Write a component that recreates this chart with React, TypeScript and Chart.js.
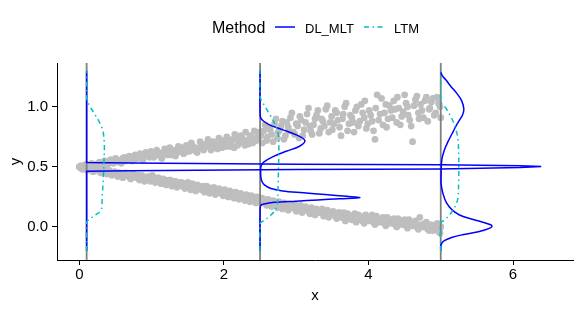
import React, { useEffect, useRef } from "react";
import { Chart, registerables } from "chart.js";

Chart.register(...registerables);

const FONT = "'Liberation Sans', Arial, Helvetica, sans-serif";

// axes
const xTicks = [0, 2, 4, 6];
const yTicks = [0, 0.5, 1.0];
const xRange = [-0.31, 6.83];
const yRange = [-0.275, 1.365];
const xTitle = "x";
const yTitle = "y";

// scatter: upper branch (set a)
const upperX = [
  0.0, 0.04, 0.07, 0.11, 0.15, 0.19, 0.22, 0.26, 0.3, 0.34, 0.37, 0.41, 0.45, 0.49, 0.52, 0.56, 0.6, 0.64, 0.67, 0.71,
  0.75, 0.79, 0.82, 0.86, 0.9, 0.94, 0.97, 1.01, 1.05, 1.09, 1.12, 1.16, 1.2, 1.24, 1.27, 1.31, 1.35, 1.39, 1.42, 1.46,
  1.5, 1.54, 1.57, 1.61, 1.65, 1.69, 1.72, 1.76, 1.8, 1.84, 1.87, 1.91, 1.95, 1.99, 2.02, 2.06, 2.1, 2.14, 2.17, 2.21,
  2.25, 2.29, 2.32, 2.36, 2.4, 2.44, 2.47, 2.51, 2.55, 2.59, 2.62, 2.66, 2.7, 2.74, 2.77, 2.81, 2.85, 2.89, 2.92, 2.96,
  3.0, 3.04, 3.07, 3.11, 3.15, 3.19, 3.22, 3.26, 3.3, 3.34, 3.37, 3.41, 3.45, 3.49, 3.52, 3.56, 3.6, 3.64, 3.67, 3.71,
  3.75, 3.79, 3.82, 3.86, 3.9, 3.94, 3.97, 4.01, 4.05, 4.09, 4.12, 4.16, 4.2, 4.24, 4.27, 4.31, 4.35, 4.39, 4.42, 4.46,
  4.5, 4.54, 4.57, 4.61, 4.65, 4.69, 4.72, 4.76, 4.8, 4.84, 4.87, 4.91, 4.95, 4.99,
];
const upperY = [
  0.5, 0.5, 0.51, 0.51, 0.52, 0.51, 0.52, 0.53, 0.52, 0.54, 0.53, 0.54, 0.55, 0.54, 0.56, 0.55, 0.57, 0.55, 0.57, 0.58,
  0.56, 0.58, 0.59, 0.57, 0.59, 0.6, 0.58, 0.61, 0.6, 0.62, 0.59, 0.62, 0.61, 0.63, 0.6, 0.64, 0.62, 0.63, 0.66, 0.62,
  0.65, 0.64, 0.67, 0.63, 0.66, 0.68, 0.64, 0.67, 0.69, 0.66, 0.7, 0.65, 0.69, 0.71, 0.67, 0.72, 0.69, 0.66, 0.73, 0.7,
  0.74, 0.68, 0.72, 0.76, 0.7, 0.73, 0.77, 0.76, 0.8, 0.72, 0.83, 0.77, 0.86, 0.74, 0.81, 0.88, 0.76, 0.83, 0.91, 0.79,
  0.86, 0.74, 0.89, 0.81, 0.94, 0.84, 0.77, 0.9, 0.97, 0.82, 0.88, 0.98, 0.79, 0.92, 0.86, 0.95, 0.83, 0.9, 1.0, 0.8,
  0.93, 0.87, 0.97, 0.84, 1.02, 0.91, 0.82, 0.97, 0.88, 0.73, 1.1, 0.94, 0.85, 1.02, 0.9, 0.97, 1.05, 0.87, 0.99, 0.92,
  1.1, 1.0, 0.89, 0.71, 1.06, 0.95, 1.02, 0.91, 1.08, 0.98, 1.04, 0.93, 1.08, 1.0,
];
// scatter: upper branch (set b)
const upperXb = [
  0.02, 0.05, 0.09, 0.13, 0.17, 0.2, 0.24, 0.28, 0.32, 0.35, 0.39, 0.43, 0.47, 0.5, 0.54, 0.58, 0.62, 0.65, 0.69, 0.73,
  0.77, 0.8, 0.84, 0.88, 0.92, 0.95, 0.99, 1.03, 1.07, 1.1, 1.14, 1.18, 1.22, 1.25, 1.29, 1.33, 1.37, 1.4, 1.44, 1.48,
  1.52, 1.55, 1.59, 1.63, 1.67, 1.7, 1.74, 1.78, 1.82, 1.85, 1.89, 1.93, 1.97, 2.0, 2.04, 2.08, 2.12, 2.15, 2.19, 2.23,
  2.27, 2.3, 2.34, 2.38, 2.42, 2.45, 2.49, 2.53, 2.57, 2.6, 2.64, 2.68, 2.72, 2.75, 2.79, 2.83, 2.87, 2.9, 2.94, 2.98,
  3.02, 3.05, 3.09, 3.13, 3.17, 3.2, 3.24, 3.28, 3.32, 3.35, 3.39, 3.43, 3.47, 3.5, 3.54, 3.58, 3.62, 3.65, 3.69, 3.73,
  3.77, 3.8, 3.84, 3.88, 3.92, 3.95, 3.99, 4.03, 4.07, 4.1, 4.14, 4.18, 4.22, 4.25, 4.29, 4.33, 4.37, 4.4, 4.44, 4.48,
  4.52, 4.55, 4.59, 4.63, 4.67, 4.7, 4.74, 4.78, 4.82, 4.85, 4.89, 4.93, 4.97, 5.0,
];
const upperYb = [
  0.51, 0.49, 0.52, 0.5, 0.53, 0.52, 0.5, 0.54, 0.51, 0.55, 0.52, 0.56, 0.53, 0.57, 0.54, 0.53, 0.58, 0.56, 0.59, 0.55,
  0.6, 0.57, 0.61, 0.56, 0.62, 0.59, 0.63, 0.58, 0.64, 0.61, 0.57, 0.65, 0.6, 0.66, 0.62, 0.59, 0.67, 0.64, 0.61, 0.68,
  0.63, 0.7, 0.66, 0.62, 0.71, 0.65, 0.69, 0.73, 0.64, 0.71, 0.68, 0.74, 0.66, 0.72, 0.75, 0.67, 0.73, 0.77, 0.68, 0.76,
  0.71, 0.79, 0.69, 0.75, 0.8, 0.72, 0.79, 0.7, 0.85, 0.75, 0.81, 0.71, 0.9, 0.79, 0.84, 0.73, 0.87, 0.8, 0.95, 0.77,
  0.84, 0.92, 0.76, 0.87, 0.99, 0.8, 0.85, 0.93, 0.78, 0.9, 0.84, 1.01, 0.87, 0.81, 0.97, 0.89, 0.76, 0.94, 1.03, 0.86,
  0.91, 0.79, 1.0, 0.88, 0.95, 1.05, 0.86, 0.93, 0.8, 0.99, 0.89, 1.07, 0.95, 0.83, 1.01, 0.91, 0.98, 1.08, 0.85, 0.96,
  1.03, 0.93, 0.84, 1.01, 1.09, 0.9, 0.97, 1.05, 0.88, 0.99, 1.07, 0.95, 1.03, 0.91,
];

// scatter: lower branch (set a)
const lowerX = [
  0.02, 0.06, 0.09, 0.13, 0.17, 0.21, 0.24, 0.28, 0.32, 0.36, 0.39, 0.43, 0.47, 0.51, 0.54, 0.58, 0.62, 0.66, 0.69, 0.73,
  0.77, 0.81, 0.84, 0.88, 0.92, 0.96, 0.99, 1.03, 1.07, 1.11, 1.14, 1.18, 1.22, 1.26, 1.29, 1.33, 1.37, 1.41, 1.44, 1.48,
  1.52, 1.56, 1.59, 1.63, 1.67, 1.71, 1.74, 1.78, 1.82, 1.86, 1.89, 1.93, 1.97, 2.01, 2.04, 2.08, 2.12, 2.16, 2.19, 2.23,
  2.27, 2.31, 2.34, 2.38, 2.42, 2.46, 2.49, 2.53, 2.57, 2.61, 2.64, 2.68, 2.72, 2.76, 2.79, 2.83, 2.87, 2.91, 2.94, 2.98,
  3.02, 3.06, 3.09, 3.13, 3.17, 3.21, 3.24, 3.28, 3.32, 3.36, 3.39, 3.43, 3.47, 3.51, 3.54, 3.58, 3.62, 3.66, 3.69, 3.73,
  3.77, 3.81, 3.84, 3.88, 3.92, 3.96, 3.99, 4.03, 4.07, 4.11, 4.14, 4.18, 4.22, 4.26, 4.29, 4.33, 4.37, 4.41, 4.44, 4.48,
  4.52, 4.56, 4.59, 4.63, 4.67, 4.71, 4.74, 4.78, 4.82, 4.86, 4.89, 4.93, 4.97, 5.0,
];
const lowerY = [
  0.49, 0.49, 0.48, 0.49, 0.48, 0.47, 0.48, 0.46, 0.47, 0.46, 0.45, 0.46, 0.45, 0.44, 0.45, 0.43, 0.44, 0.43, 0.42, 0.44,
  0.42, 0.43, 0.41, 0.42, 0.4, 0.42, 0.4, 0.41, 0.39, 0.4, 0.38, 0.39, 0.37, 0.39, 0.36, 0.38, 0.36, 0.37, 0.35, 0.36,
  0.34, 0.36, 0.33, 0.35, 0.33, 0.34, 0.32, 0.33, 0.31, 0.33, 0.3, 0.32, 0.29, 0.31, 0.28, 0.3, 0.27, 0.29, 0.26, 0.28,
  0.25, 0.27, 0.24, 0.26, 0.23, 0.25, 0.22, 0.24, 0.21, 0.23, 0.2, 0.22, 0.19, 0.21, 0.18, 0.2, 0.17, 0.19, 0.16, 0.19,
  0.15, 0.18, 0.14, 0.17, 0.13, 0.16, 0.13, 0.15, 0.12, 0.15, 0.11, 0.14, 0.1, 0.13, 0.09, 0.12, 0.08, 0.12, 0.08, 0.1,
  0.06, 0.11, 0.07, 0.09, 0.05, 0.1, 0.06, 0.08, 0.04, 0.09, 0.05, 0.07, 0.03, 0.08, 0.04, 0.06, 0.02, 0.07, 0.03, 0.05,
  0.01, 0.06, 0.02, 0.04, 0.0, 0.08, 0.01, 0.03, -0.02, 0.02, -0.03, 0.01, -0.04, 0.0,
];
// scatter: lower branch (set b)
const lowerXb = [
  0.0, 0.04, 0.08, 0.11, 0.15, 0.19, 0.23, 0.26, 0.3, 0.34, 0.38, 0.41, 0.45, 0.49, 0.53, 0.56, 0.6, 0.64, 0.68, 0.71,
  0.75, 0.79, 0.83, 0.86, 0.9, 0.94, 0.98, 1.01, 1.05, 1.09, 1.13, 1.16, 1.2, 1.24, 1.28, 1.31, 1.35, 1.39, 1.43, 1.46,
  1.5, 1.54, 1.58, 1.61, 1.65, 1.69, 1.73, 1.76, 1.8, 1.84, 1.88, 1.91, 1.95, 1.99, 2.03, 2.06, 2.1, 2.14, 2.18, 2.21,
  2.25, 2.29, 2.33, 2.36, 2.4, 2.44, 2.48, 2.51, 2.55, 2.59, 2.63, 2.66, 2.7, 2.74, 2.78, 2.81, 2.85, 2.89, 2.93, 2.96,
  3.0, 3.04, 3.08, 3.11, 3.15, 3.19, 3.23, 3.26, 3.3, 3.34, 3.38, 3.41, 3.45, 3.49, 3.53, 3.56, 3.6, 3.64, 3.68, 3.71,
  3.75, 3.79, 3.83, 3.86, 3.9, 3.94, 3.98, 4.01, 4.05, 4.09, 4.13, 4.16, 4.2, 4.24, 4.28, 4.31, 4.35, 4.39, 4.43, 4.46,
  4.5, 4.54, 4.58, 4.61, 4.65, 4.69, 4.73, 4.76, 4.8, 4.84, 4.88, 4.91, 4.95, 4.99,
];
const lowerYb = [
  0.5, 0.48, 0.5, 0.47, 0.49, 0.46, 0.49, 0.47, 0.45, 0.48, 0.44, 0.47, 0.43, 0.46, 0.42, 0.45, 0.41, 0.45, 0.42, 0.4,
  0.44, 0.41, 0.39, 0.43, 0.38, 0.41, 0.38, 0.43, 0.37, 0.41, 0.36, 0.4, 0.35, 0.39, 0.34, 0.38, 0.33, 0.37, 0.34, 0.32,
  0.37, 0.31, 0.35, 0.3, 0.34, 0.31, 0.29, 0.34, 0.28, 0.32, 0.27, 0.31, 0.28, 0.26, 0.3, 0.25, 0.29, 0.24, 0.28, 0.23,
  0.27, 0.22, 0.26, 0.21, 0.25, 0.2, 0.24, 0.2, 0.23, 0.18, 0.22, 0.17, 0.21, 0.16, 0.2, 0.15, 0.19, 0.14, 0.18, 0.16,
  0.13, 0.17, 0.12, 0.16, 0.14, 0.11, 0.15, 0.1, 0.14, 0.12, 0.09, 0.13, 0.08, 0.12, 0.1, 0.07, 0.12, 0.08, 0.05, 0.11,
  0.07, 0.09, 0.04, 0.1, 0.06, 0.03, 0.08, 0.05, 0.1, 0.02, 0.06, 0.04, 0.08, 0.01, 0.05, 0.03, 0.07, 0.0, 0.04, 0.02,
  0.06, -0.01, 0.03, 0.01, 0.05, -0.02, 0.02, 0.0, 0.04, -0.03, 0.01, -0.01, 0.03, -0.05,
];

// vertical slice positions
const slicePositions = [0.1, 2.5, 5.0];

// legend
const legendTitle = "Method";
const methods = ["DL_MLT", "LTM"];
const methodColors = ["#0000FF", "#00BFC4"];
const methodDash = [[], [5, 3.5, 1.5, 3.5]];

// DL_MLT densities (y grid, scaled density width)
const dlAt0Y = [-0.2, 0.464, 0.468, 0.478, 0.483, 0.495, 0.503, 0.51, 0.518, 0.523, 0.532, 0.537, 1.3];
const dlAt0W = [0, 0, 0.6, 2.9, 4.9, 6.0, 6.29, 6.0, 4.9, 2.9, 0.6, 0, 0];

const dlAt25Y = [
  -0.2, 0.15, 0.18, 0.19, 0.205, 0.215, 0.225, 0.235, 0.244, 0.255, 0.27, 0.285, 0.3, 0.32, 0.35, 0.38, 0.42, 0.47, 0.51,
  0.54, 0.586, 0.63, 0.67, 0.72, 0.767, 0.81, 0.85, 0.88, 0.906, 0.95, 1.3,
];
const dlAt25W = [
  0, 0, 0.01, 0.04, 0.2, 0.5, 0.8, 1.1, 1.38, 1.2, 0.9, 0.6, 0.31, 0.15, 0.06, 0.025, 0.01, 0.008, 0.015, 0.05, 0.18,
  0.36, 0.54, 0.62, 0.5, 0.31, 0.13, 0.05, 0.01, 0, 0,
];

const dlAt5Y = [
  -0.2, -0.16, -0.14, -0.114, -0.086, -0.065, -0.04, -0.01, 0.008, 0.02, 0.044, 0.07, 0.1, 0.14, 0.2, 0.28, 0.36, 0.45,
  0.56, 0.64, 0.71, 0.78, 0.84, 0.89, 0.93, 0.98, 1.05, 1.114, 1.17, 1.225, 1.26, 1.29,
];
const dlAt5W = [
  0, 0, 0.01, 0.05, 0.16, 0.3, 0.52, 0.68, 0.71, 0.68, 0.56, 0.4, 0.26, 0.16, 0.08, 0.03, 0.005, 0.005, 0.015, 0.05, 0.1,
  0.16, 0.21, 0.26, 0.3, 0.32, 0.29, 0.22, 0.14, 0.07, 0.02, 0,
];

// LTM densities
const ltmAt0Y = [-0.2, 0.04, 0.06, 0.1, 0.14, 0.25, 0.4, 0.55, 0.68, 0.8, 0.88, 0.95, 1.01, 1.05, 1.07, 1.3];
const ltmAt0W = [0, 0, 0.03, 0.12, 0.2, 0.215, 0.23, 0.24, 0.245, 0.225, 0.17, 0.1, 0.04, 0.005, 0, 0];

const ltmAt25Y = [-0.2, 0.03, 0.045, 0.1, 0.15, 0.2, 0.36, 0.5, 0.64, 0.78, 0.85, 0.92, 1.0, 1.044, 1.08, 1.3];
const ltmAt25W = [0, 0, 0.03, 0.15, 0.22, 0.24, 0.25, 0.255, 0.26, 0.25, 0.21, 0.15, 0.07, 0.03, 0, 0];

const ltmAt5Y = [-0.2, 0.03, 0.06, 0.1, 0.14, 0.2, 0.25, 0.5, 0.725, 0.8, 0.88, 0.94, 0.99, 1.03, 1.05, 1.3];
const ltmAt5W = [0, 0, 0.055, 0.12, 0.17, 0.22, 0.24, 0.25, 0.24, 0.215, 0.17, 0.12, 0.07, 0.01, 0, 0];

const densityCurves = [
  { method: 0, base: 0.1, ys: dlAt0Y, ws: dlAt0W, tension: 0 },
  { method: 0, base: 2.5, ys: dlAt25Y, ws: dlAt25W, tension: 0.35 },
  { method: 0, base: 5.0, ys: dlAt5Y, ws: dlAt5W, tension: 0.35 },
  { method: 1, base: 0.1, ys: ltmAt0Y, ws: ltmAt0W, tension: 0.35 },
  { method: 1, base: 2.5, ys: ltmAt25Y, ws: ltmAt25W, tension: 0.35 },
  { method: 1, base: 5.0, ys: ltmAt5Y, ws: ltmAt5W, tension: 0.35 },
];

const scatterSets = [
  { xs: upperX, ys: upperY },
  { xs: upperXb, ys: upperYb },
  { xs: lowerX, ys: lowerY },
  { xs: lowerXb, ys: lowerYb },
];

export default function App() {
  const canvasRef = useRef<HTMLCanvasElement | null>(null);

  useEffect(() => {
    const canvas = canvasRef.current;
    if (!canvas) return;

    const datasets: any[] = [];

    densityCurves.forEach((c) => {
      datasets.push({
        type: "scatter",
        showLine: true,
        data: c.ys.map((y, i) => ({ x: c.base + c.ws[i], y })),
        borderColor: methodColors[c.method],
        borderWidth: 1.5,
        borderDash: methodDash[c.method],
        pointRadius: 0,
        tension: c.tension,
        fill: false,
        order: c.method === 1 ? 1 : 2,
      });
    });

    slicePositions.forEach((p) => {
      datasets.push({
        type: "scatter",
        showLine: true,
        data: [
          { x: p, y: yRange[0] },
          { x: p, y: yRange[1] },
        ],
        borderColor: "#808080",
        borderWidth: 1.8,
        pointRadius: 0,
        order: 3,
      });
    });

    scatterSets.forEach((s) => {
      datasets.push({
        type: "scatter",
        data: s.xs.map((x, i) => ({ x, y: s.ys[i] })),
        backgroundColor: "#BEBEBE",
        borderWidth: 0,
        pointRadius: 3.4,
        order: 4,
      });
    });

    const chart = new Chart(canvas, {
      type: "scatter",
      data: { datasets },
      options: {
        animation: false,
        responsive: false,
        devicePixelRatio: 1,
        events: [],
        layout: { padding: { top: 63, right: 8, left: 0, bottom: 0 } },
        plugins: { legend: { display: false }, tooltip: { enabled: false } },
        scales: {
          x: {
            type: "linear",
            min: xRange[0],
            max: xRange[1],
            afterBuildTicks: (s: any) => {
              s.ticks = xTicks.map((v) => ({ value: v }));
            },
            afterFit: (s: any) => {
              s.height = 50;
            },
            grid: {
              display: true,
              drawOnChartArea: false,
              drawTicks: true,
              tickLength: 5,
              color: "#000",
              tickColor: "#000",
              lineWidth: 1,
            },
            border: { display: true, color: "#000", width: 1 },
            ticks: {
              color: "#000",
              font: { family: FONT, size: 15 },
              padding: 1,
              maxRotation: 0,
              callback: (v: any) => String(v),
            },
            title: {
              display: true,
              text: xTitle,
              color: "#000",
              font: { family: FONT, size: 15 },
              padding: { top: 0, bottom: 5 },
            },
          },
          y: {
            type: "linear",
            min: yRange[0],
            max: yRange[1],
            afterBuildTicks: (s: any) => {
              s.ticks = yTicks.map((v) => ({ value: v }));
            },
            afterFit: (s: any) => {
              s.width = 57;
            },
            grid: {
              display: true,
              drawOnChartArea: false,
              drawTicks: true,
              tickLength: 5,
              color: "#000",
              tickColor: "#000",
              lineWidth: 1,
            },
            border: { display: true, color: "#000", width: 1 },
            ticks: {
              color: "#000",
              font: { family: FONT, size: 15 },
              padding: 4,
              callback: (v: any) => Number(v).toFixed(1),
            },
            title: {
              display: true,
              text: yTitle,
              color: "#000",
              font: { family: FONT, size: 15 },
              padding: { top: 7, bottom: 0 },
            },
          },
        },
      },
    } as any);

    return () => chart.destroy();
  }, []);

  const legendSamples = [
    { left: 275, textLeft: 305 },
    { left: 364, textLeft: 394 },
  ];

  return (
    <div style={{ position: "absolute", left: 0, top: 0, width: 581, height: 310, background: "#fff", fontFamily: FONT }}>
      <canvas ref={canvasRef} width={581} height={310} style={{ position: "absolute", left: 0, top: 0, width: 581, height: 310 }} />
      <div style={{ position: "absolute", left: 212, top: 19.5, fontSize: 16, lineHeight: "16px", color: "#000", whiteSpace: "nowrap" }}>
        {legendTitle}
      </div>
      {methods.map((m, i) => (
        <React.Fragment key={m}>
          <svg
            width={20}
            height={6}
            style={{ position: "absolute", left: legendSamples[i].left, top: 23.7 }}
          >
            <line
              x1={0}
              y1={3}
              x2={20}
              y2={3}
              stroke={methodColors[i]}
              strokeWidth={1.5}
              strokeDasharray={methodDash[i].length ? methodDash[i].join(" ") : undefined}
            />
          </svg>
          <div
            style={{
              position: "absolute",
              left: legendSamples[i].textLeft,
              top: 22,
              fontSize: 13,
              lineHeight: "13px",
              color: "#000",
              whiteSpace: "nowrap",
            }}
          >
            {m}
          </div>
        </React.Fragment>
      ))}
    </div>
  );
}
